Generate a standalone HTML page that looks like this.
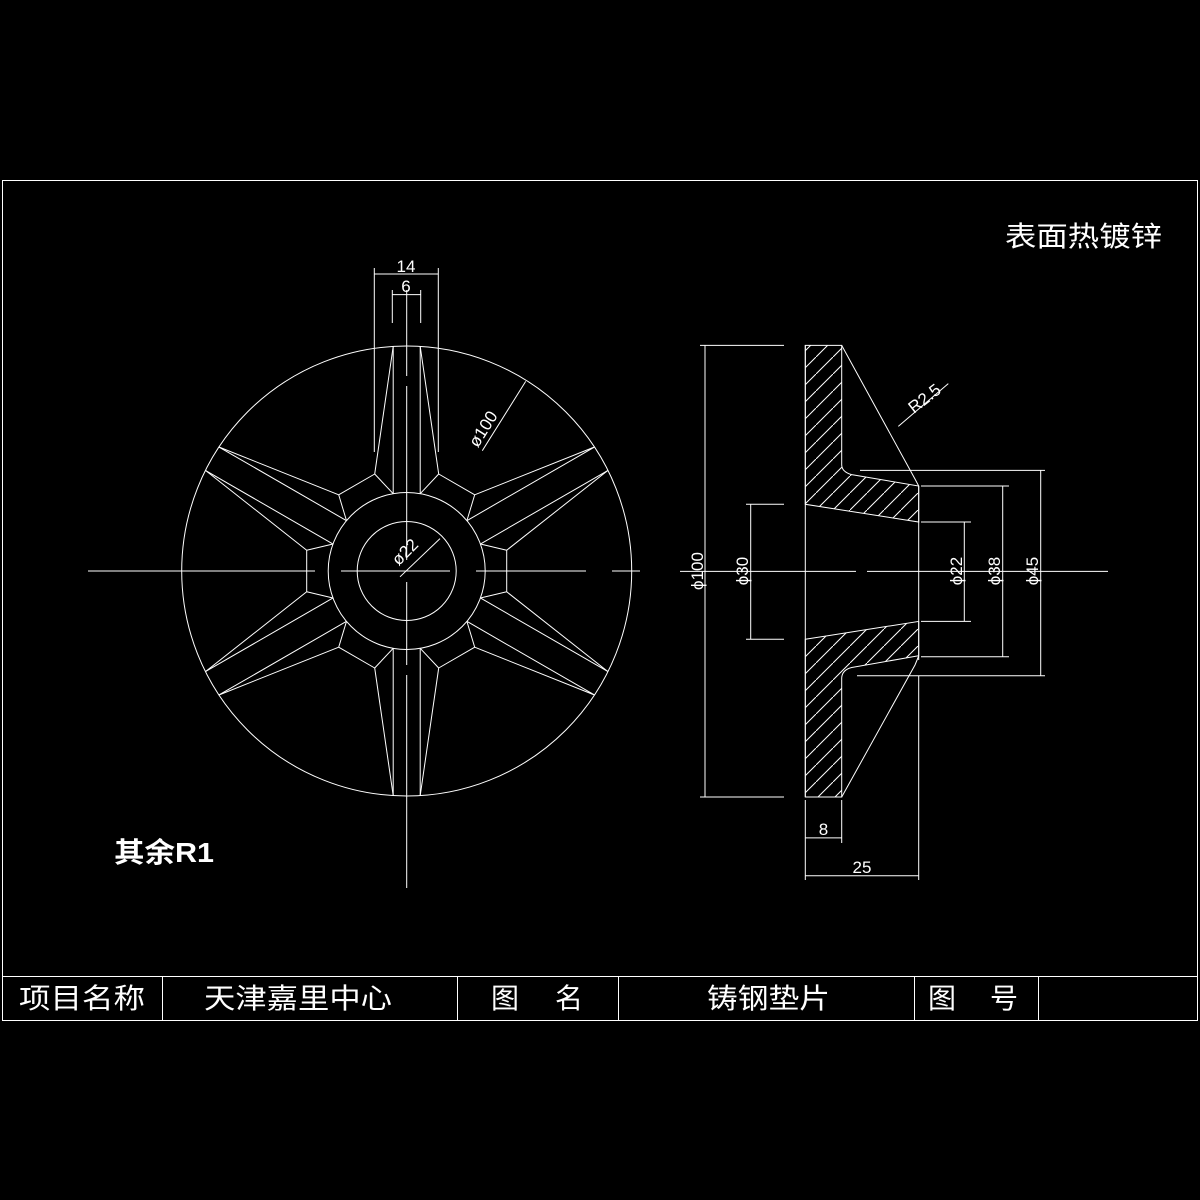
<!DOCTYPE html>
<html><head><meta charset="utf-8"><style>
html,body{margin:0;padding:0;background:#000;}
svg{display:block;}
text{fill:#fff;font-family:"Liberation Sans","Noto Sans CJK SC",sans-serif;}
</style></head><body>
<svg id="s" width="1200" height="1200" viewBox="0 0 1200 1200" xmlns="http://www.w3.org/2000/svg">
<defs>
<pattern id="h" patternUnits="userSpaceOnUse" width="17" height="17">
<line x1="-1" y1="18" x2="18" y2="-1" stroke="#fff" stroke-width="1"/>
</pattern>
</defs>
<rect width="1200" height="1200" fill="#000"/>
<g stroke="#fff" stroke-width="1" fill="none">
<rect x="2.5" y="180.5" width="1195" height="840"/>
<line x1="2" y1="976.5" x2="1198" y2="976.5"/>
<line x1="162.5" y1="976" x2="162.5" y2="1021"/>
<line x1="457.5" y1="976" x2="457.5" y2="1021"/>
<line x1="618.5" y1="976" x2="618.5" y2="1021"/>
<line x1="914.5" y1="976" x2="914.5" y2="1021"/>
<line x1="1038.5" y1="976" x2="1038.5" y2="1021"/>

<circle cx="406.7" cy="571" r="225"/>
<circle cx="406.7" cy="571" r="78.5"/>
<circle cx="406.7" cy="571" r="49.5"/>
<g id="ribs"></g>
<line x1="88" y1="571" x2="315" y2="571"/>
<line x1="341" y1="571" x2="450" y2="571"/>
<line x1="476" y1="571" x2="586" y2="571"/>
<line x1="612" y1="571" x2="640" y2="571"/>
<line x1="406.7" y1="290" x2="406.7" y2="376"/>
<line x1="406.7" y1="386" x2="406.7" y2="560"/>
<line x1="406.7" y1="582" x2="406.7" y2="665"/>
<line x1="406.7" y1="675" x2="406.7" y2="888"/>
<line x1="374.3" y1="268" x2="374.3" y2="452"/>
<line x1="438.3" y1="268" x2="438.3" y2="452"/>
<line x1="374.3" y1="274" x2="438.3" y2="274"/>
<line x1="392.3" y1="290" x2="392.3" y2="323"/>
<line x1="420.7" y1="290" x2="420.7" y2="323"/>
<line x1="392.3" y1="294.6" x2="420.7" y2="294.6"/>
<line x1="525.7" y1="381.4" x2="482.3" y2="450.7"/>
<line x1="400" y1="576.8" x2="440" y2="538.6"/>

<path d="M805.3,345.4 H841.7 V465 Q842,472 851.7,474.6 L918.7,486 V522 L805.3,504.3 Z" fill="url(#h)"/>
<path d="M805.3,639.3 L918.7,621.4 V655.7 L851.7,667.5 Q842,670 841.7,678 V797 H805.3 Z" fill="url(#h)"/>
<line x1="805.3" y1="345" x2="805.3" y2="797"/>
<line x1="918.7" y1="486" x2="918.7" y2="660"/>
<polyline points="841.7,345.4 915,479 918.7,486"/>
<polyline points="841.7,797 915,665 918.7,656"/>
<line x1="680" y1="571.4" x2="856" y2="571.4"/>
<line x1="867" y1="571.4" x2="1108" y2="571.4"/>
<line x1="700" y1="345.4" x2="784" y2="345.4"/>
<line x1="700" y1="797" x2="784" y2="797"/>
<line x1="705" y1="345.4" x2="705" y2="797"/>
<line x1="746" y1="504.3" x2="784" y2="504.3"/>
<line x1="746" y1="639.3" x2="784" y2="639.3"/>
<line x1="750.7" y1="504.3" x2="750.7" y2="639.3"/>
<line x1="921" y1="522" x2="971" y2="522"/>
<line x1="921" y1="621.4" x2="971" y2="621.4"/>
<line x1="964.3" y1="522" x2="964.3" y2="621.4"/>
<line x1="921" y1="486" x2="1009" y2="486"/>
<line x1="921" y1="656.8" x2="1009" y2="656.8"/>
<line x1="1002.7" y1="486" x2="1002.7" y2="656.8"/>
<line x1="860" y1="470.4" x2="1045" y2="470.4"/>
<line x1="857" y1="675.7" x2="1045" y2="675.7"/>
<line x1="1040.7" y1="470.4" x2="1040.7" y2="675.7"/>
<line x1="805.3" y1="800" x2="805.3" y2="880"/>
<line x1="841.7" y1="800" x2="841.7" y2="843"/>
<line x1="918.7" y1="676" x2="918.7" y2="880"/>
<line x1="805.3" y1="837.9" x2="841.7" y2="837.9"/>
<line x1="805.3" y1="875.7" x2="918.7" y2="875.7"/>
<line x1="898.3" y1="426.4" x2="948.3" y2="383.6"/>
</g>

<g fill="#fff" font-size="17" font-family="Liberation Sans, sans-serif">
<text x="406" y="272" text-anchor="middle">14</text>
<text x="406" y="292" text-anchor="middle">6</text>
<text transform="translate(488,432) rotate(-58)" text-anchor="middle">ø100</text>
<text transform="translate(409,556) rotate(-45)" text-anchor="middle">ø22</text>
<text transform="translate(703,571) rotate(-90)" text-anchor="middle">ϕ100</text>
<text transform="translate(748,571) rotate(-90)" text-anchor="middle">ϕ30</text>
<text transform="translate(962,571) rotate(-90)" text-anchor="middle">ϕ22</text>
<text transform="translate(1000,571) rotate(-90)" text-anchor="middle">ϕ38</text>
<text transform="translate(1038,571) rotate(-90)" text-anchor="middle">ϕ45</text>
<text x="823.5" y="835" text-anchor="middle">8</text>
<text x="862" y="873" text-anchor="middle">25</text>
<text transform="translate(928,403) rotate(-38)" text-anchor="middle">R2.5</text>
</g>

<g fill="#fff" font-family="Liberation Sans, Noto Sans CJK SC, sans-serif" font-size="28">
<text x="1005" y="246" textLength="157" lengthAdjust="spacingAndGlyphs">表面热镀锌</text>
<text x="114" y="862" textLength="100" lengthAdjust="spacingAndGlyphs" font-weight="bold">其余R1</text>
<text x="19" y="1008" textLength="126" lengthAdjust="spacingAndGlyphs">项目名称</text>
<text x="204" y="1008" textLength="188" lengthAdjust="spacingAndGlyphs">天津嘉里中心</text>
<text x="491" y="1008">图</text>
<text x="555" y="1008">名</text>
<text x="707" y="1008" textLength="123" lengthAdjust="spacingAndGlyphs">铸钢垫片</text>
<text x="928" y="1008">图</text>
<text x="990" y="1008">号</text>
</g>
</svg>
<script>
(function(){
var g=document.getElementById('ribs'),cx=406.7,cy=571,ns="http://www.w3.org/2000/svg";
function L(a,b){var l=document.createElementNS(ns,'line');l.setAttribute('x1',a[0]);l.setAttribute('y1',a[1]);l.setAttribute('x2',b[0]);l.setAttribute('y2',b[1]);g.appendChild(l);}
function P(d,n,a,p){return [cx+a*d[0]+p*n[0],cy+a*d[1]+p*n[1]];}
var As=[];
for(var i=0;i<6;i++){
 var t=(30+60*i)*Math.PI/180,d=[Math.cos(t),-Math.sin(t)],n=[Math.sin(t),Math.cos(t)];
 [1,-1].forEach(function(s){
  var A=P(d,n,97,32*s),H=P(d,n,77.3,13.5*s),C=P(d,n,224.6,13.5*s);
  L(H,C);L(A,C);L(A,H);
  As.push({p:A,r:i,a:Math.atan2(A[1]-cy,A[0]-cx)});
 });
}
As.sort(function(a,b){return a.a-b.a;});
for(var k=0;k<As.length;k++){var a=As[k],b=As[(k+1)%As.length];if(a.r!==b.r)L(a.p,b.p);}
})();
</script>
</body></html>
